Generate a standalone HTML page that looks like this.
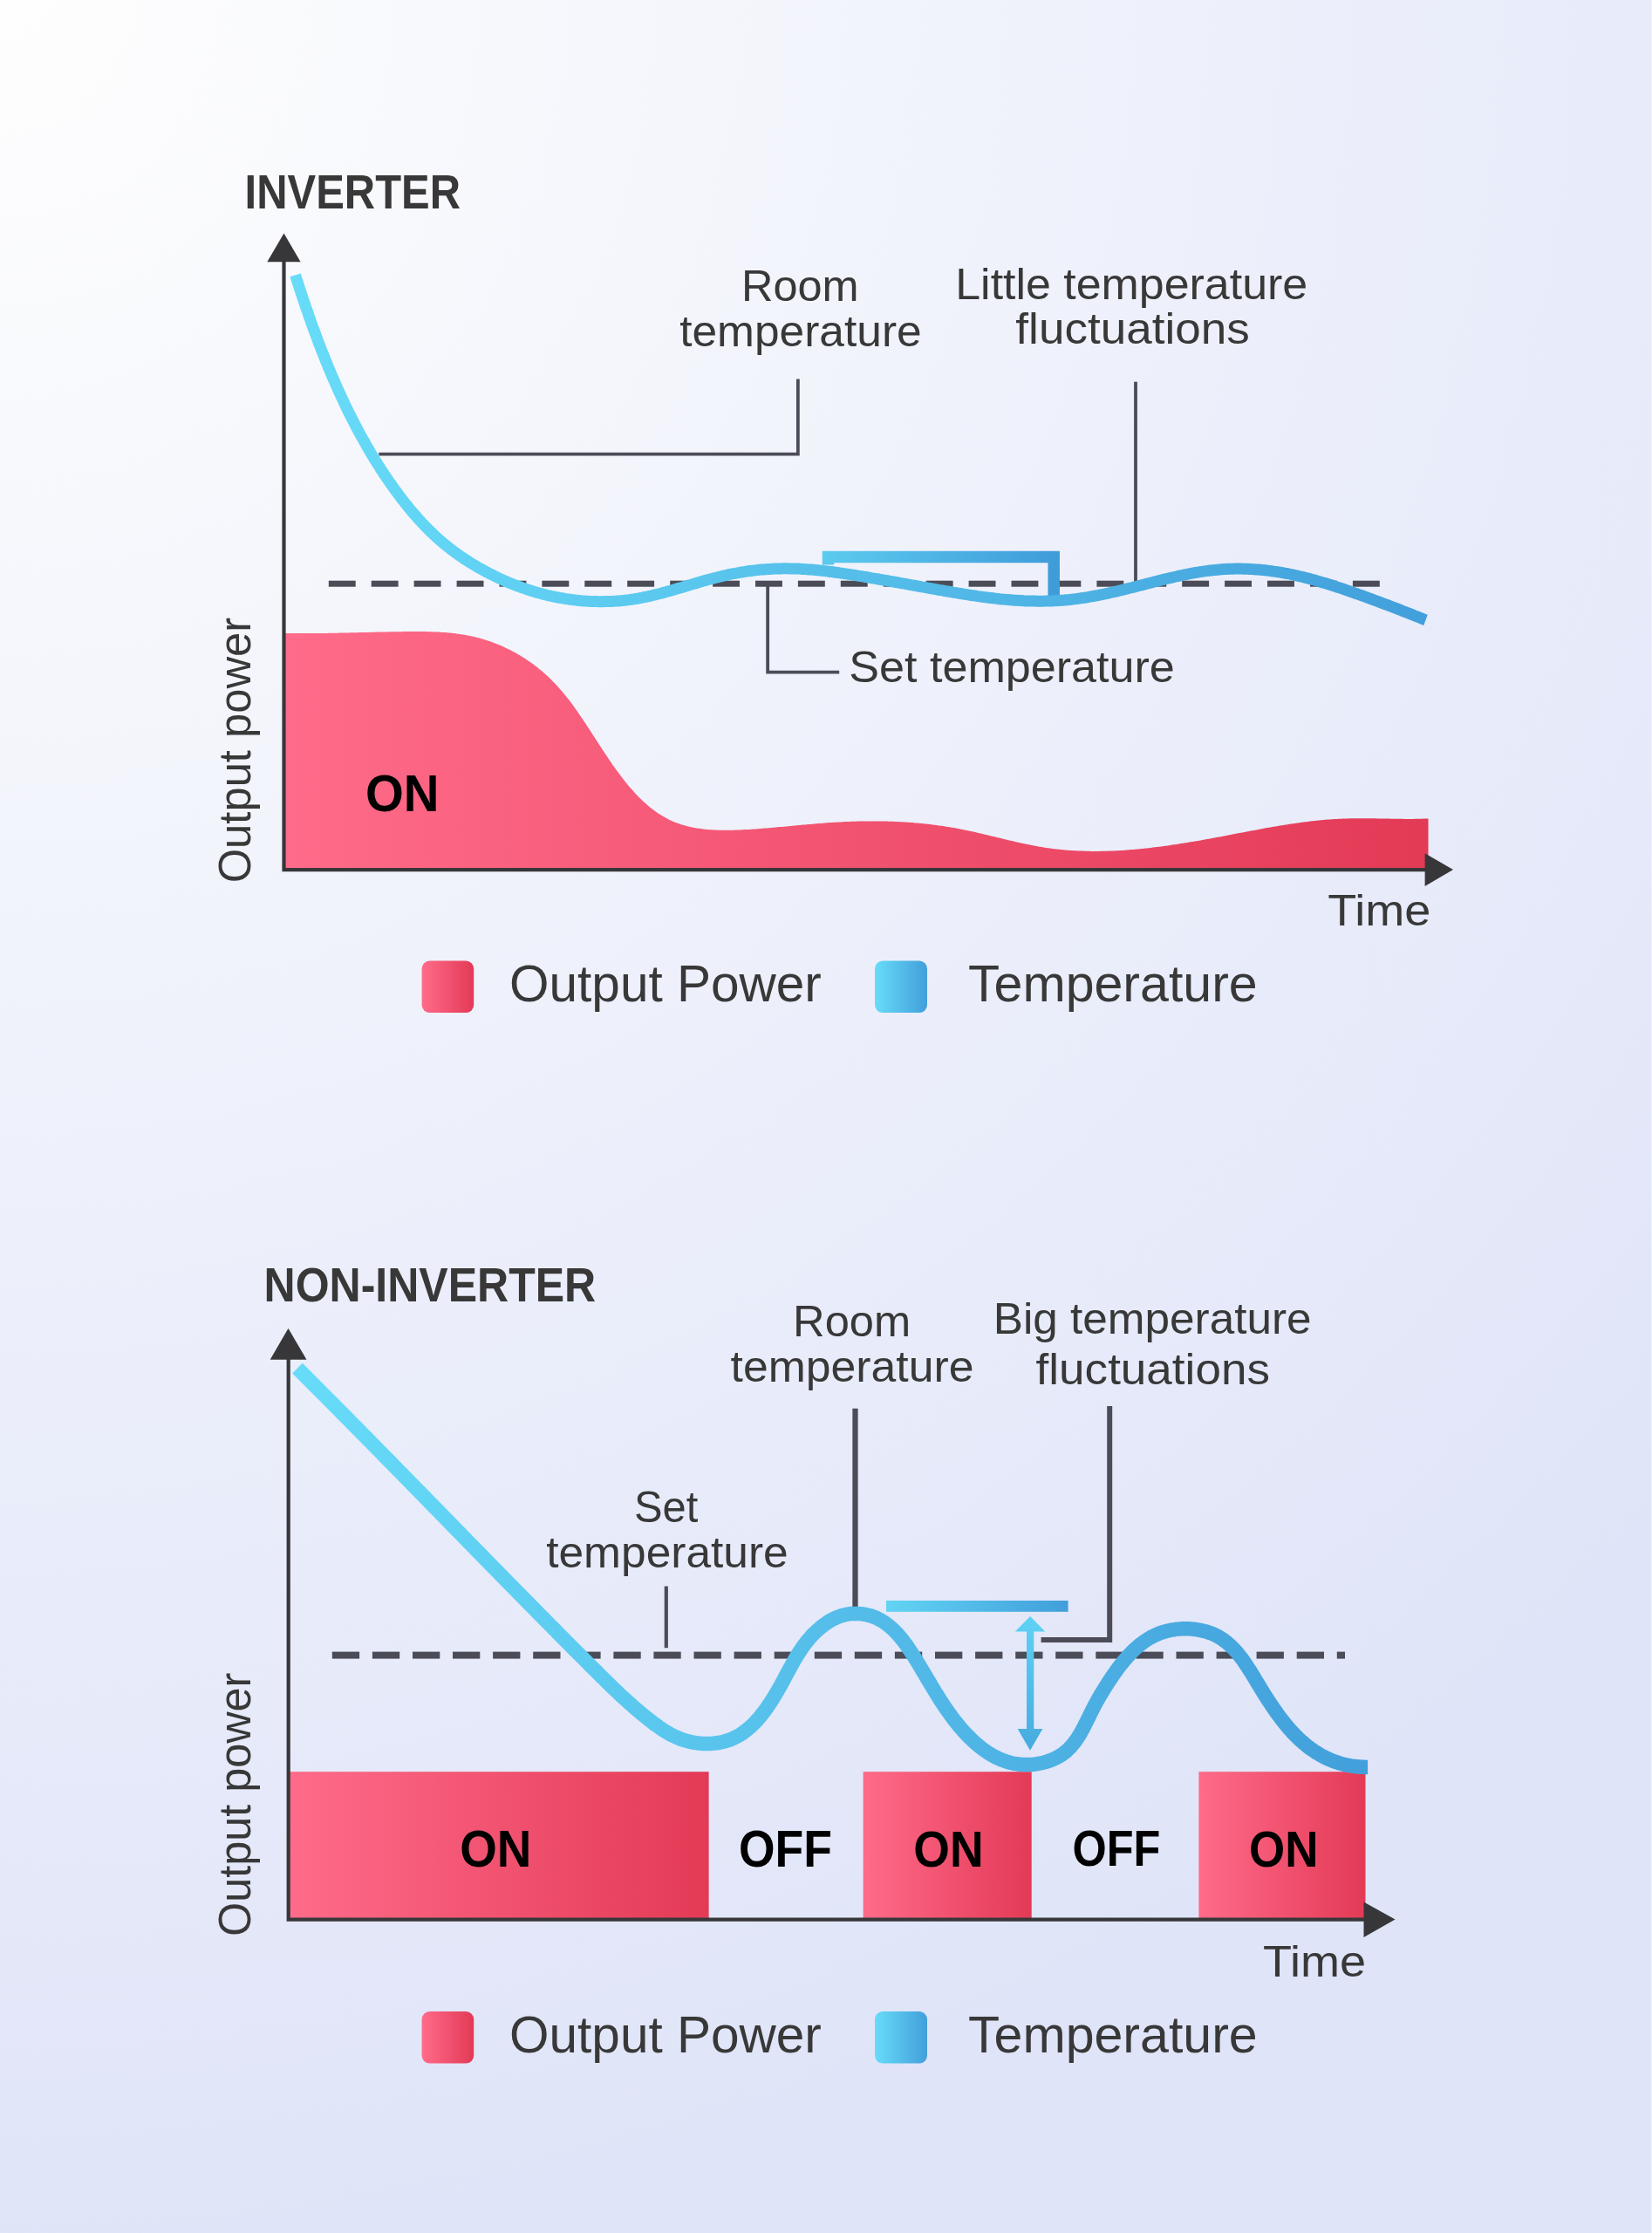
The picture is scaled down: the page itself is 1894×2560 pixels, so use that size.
<!DOCTYPE html>
<html><head><meta charset="utf-8"><title>Inverter vs Non-Inverter</title>
<style>
html,body{margin:0;padding:0;}
body{width:1894px;height:2560px;overflow:hidden;background:radial-gradient(circle 2600px at 0 0,#fefefe 0%,#dfe4f8 100%);}
svg{position:absolute;left:0;top:0;display:block;}
text{font-family:"Liberation Sans",sans-serif;}
</style></head><body>
<svg width="1894" height="2560" viewBox="0 0 1894 2560" xmlns="http://www.w3.org/2000/svg">
<rect x="1893" y="0" width="1" height="2560" fill="#f1f3fd"/>
<defs>
<linearGradient id="pinkT" gradientUnits="userSpaceOnUse" x1="327" y1="0" x2="1638" y2="0"><stop offset="0" stop-color="#ff6b8a"/><stop offset="1" stop-color="#e33a56"/></linearGradient>
<linearGradient id="blueT" gradientUnits="userSpaceOnUse" x1="332" y1="0" x2="1640" y2="0"><stop offset="0" stop-color="#67dcf8"/><stop offset="1" stop-color="#429fdb"/></linearGradient>
<linearGradient id="brkT" gradientUnits="userSpaceOnUse" x1="943" y1="0" x2="1215" y2="0"><stop offset="0" stop-color="#5ccbef"/><stop offset="1" stop-color="#3f9bd9"/></linearGradient>
<linearGradient id="pinkB1" gradientUnits="userSpaceOnUse" x1="333" y1="0" x2="812.6" y2="0"><stop offset="0" stop-color="#ff6b8a"/><stop offset="1" stop-color="#e33a56"/></linearGradient>
<linearGradient id="pinkB2" gradientUnits="userSpaceOnUse" x1="989.6" y1="0" x2="1182.7" y2="0"><stop offset="0" stop-color="#ff6b8a"/><stop offset="1" stop-color="#e33a56"/></linearGradient>
<linearGradient id="pinkB3" gradientUnits="userSpaceOnUse" x1="1374.4" y1="0" x2="1565.5" y2="0"><stop offset="0" stop-color="#ff6b8a"/><stop offset="1" stop-color="#e33a56"/></linearGradient>
<linearGradient id="blueB" gradientUnits="userSpaceOnUse" x1="335" y1="0" x2="1568" y2="0"><stop offset="0" stop-color="#67dcf8"/><stop offset="1" stop-color="#429fdb"/></linearGradient>
<linearGradient id="barB" gradientUnits="userSpaceOnUse" x1="1016" y1="0" x2="1224.6" y2="0"><stop offset="0" stop-color="#62d4f4"/><stop offset="1" stop-color="#419fdb"/></linearGradient>
<linearGradient id="arrB" gradientUnits="userSpaceOnUse" x1="0" y1="1853" x2="0" y2="2007"><stop offset="0" stop-color="#5fd3f4"/><stop offset="1" stop-color="#46aade"/></linearGradient>
<linearGradient id="swP" x1="0" y1="0" x2="1" y2="0"><stop offset="0" stop-color="#ff6b8a"/><stop offset="1" stop-color="#e33a56"/></linearGradient>
<linearGradient id="swB" x1="0" y1="0" x2="1" y2="0"><stop offset="0" stop-color="#67dcf8"/><stop offset="1" stop-color="#429fdb"/></linearGradient>
</defs>
<path d="M327.0,725.9 L329.5,725.9 L332.0,725.9 L334.5,726.0 L337.0,726.0 L339.5,726.0 L342.1,726.1 L344.6,726.1 L347.1,726.1 L349.6,726.1 L352.1,726.1 L354.6,726.1 L357.1,726.1 L359.6,726.0 L362.1,726.0 L364.6,726.0 L367.1,726.0 L369.6,725.9 L372.1,725.9 L374.7,725.9 L377.2,725.8 L379.7,725.8 L382.2,725.7 L384.7,725.7 L387.2,725.7 L389.7,725.6 L392.2,725.5 L394.7,725.5 L397.2,725.4 L399.7,725.4 L402.2,725.3 L404.7,725.3 L407.3,725.2 L409.8,725.2 L412.3,725.1 L414.8,725.0 L417.3,725.0 L419.8,724.9 L422.3,724.9 L424.8,724.8 L427.3,724.7 L429.8,724.7 L432.3,724.6 L434.8,724.6 L437.3,724.5 L439.9,724.5 L442.4,724.4 L444.9,724.4 L447.4,724.3 L449.9,724.3 L452.4,724.3 L454.9,724.2 L457.4,724.2 L459.9,724.2 L462.4,724.1 L464.9,724.1 L467.4,724.1 L470.0,724.1 L472.5,724.1 L475.0,724.0 L477.5,724.0 L480.0,724.1 L482.5,724.1 L485.0,724.1 L487.5,724.1 L490.0,724.2 L492.5,724.2 L495.0,724.3 L497.5,724.4 L500.0,724.5 L502.5,724.6 L505.1,724.8 L507.6,724.9 L510.1,725.1 L512.6,725.3 L515.1,725.5 L517.6,725.8 L520.0,726.0 L522.5,726.3 L525.0,726.7 L527.5,727.0 L530.0,727.4 L532.5,727.8 L534.9,728.2 L537.4,728.7 L539.9,729.2 L542.3,729.7 L544.7,730.3 L547.2,730.9 L549.6,731.5 L552.0,732.2 L554.4,732.9 L556.8,733.7 L559.2,734.4 L561.6,735.3 L563.9,736.1 L566.3,737.0 L568.6,737.9 L571.0,738.8 L573.3,739.8 L575.6,740.8 L577.9,741.8 L580.1,742.9 L582.4,744.0 L584.6,745.1 L586.9,746.2 L589.1,747.4 L591.3,748.6 L593.5,749.9 L595.6,751.1 L597.8,752.4 L599.9,753.8 L602.0,755.1 L604.1,756.5 L606.2,757.9 L608.2,759.3 L610.3,760.8 L612.3,762.3 L614.3,763.8 L616.3,765.3 L618.2,766.9 L620.2,768.5 L622.1,770.1 L624.0,771.7 L625.9,773.4 L627.7,775.1 L629.5,776.8 L631.3,778.6 L633.1,780.4 L634.9,782.2 L636.6,784.0 L638.3,785.8 L640.0,787.7 L641.6,789.5 L643.3,791.4 L644.9,793.3 L646.5,795.3 L648.1,797.2 L649.7,799.2 L651.2,801.1 L652.8,803.1 L654.3,805.1 L655.8,807.1 L657.3,809.1 L658.8,811.2 L660.2,813.2 L661.7,815.3 L663.1,817.3 L664.5,819.4 L665.9,821.4 L667.3,823.5 L668.7,825.6 L670.1,827.7 L671.5,829.8 L672.9,831.9 L674.3,834.0 L675.6,836.1 L677.0,838.2 L678.4,840.3 L679.7,842.4 L681.1,844.5 L682.4,846.6 L683.8,848.7 L685.2,850.8 L686.5,852.9 L687.9,855.0 L689.2,857.1 L690.6,859.2 L692.0,861.3 L693.4,863.4 L694.8,865.5 L696.2,867.6 L697.6,869.7 L699.0,871.8 L700.4,873.8 L701.8,875.9 L703.2,878.0 L704.7,880.0 L706.1,882.1 L707.6,884.1 L709.1,886.1 L710.6,888.1 L712.1,890.1 L713.6,892.1 L715.2,894.1 L716.7,896.0 L718.3,898.0 L719.9,899.9 L721.5,901.9 L723.2,903.8 L724.8,905.6 L726.5,907.5 L728.2,909.4 L729.9,911.2 L731.6,913.0 L733.4,914.8 L735.2,916.5 L737.0,918.3 L738.9,920.0 L740.7,921.6 L742.6,923.3 L744.6,924.9 L746.5,926.4 L748.5,928.0 L750.5,929.5 L752.5,930.9 L754.6,932.4 L756.7,933.7 L758.8,935.1 L761.0,936.3 L763.2,937.6 L765.4,938.8 L767.6,939.9 L769.9,940.9 L772.2,942.0 L774.5,942.9 L776.9,943.8 L779.2,944.6 L781.6,945.4 L784.0,946.1 L786.4,946.8 L788.9,947.4 L791.3,948.0 L793.8,948.5 L796.2,949.0 L798.7,949.4 L801.2,949.8 L803.7,950.1 L806.2,950.4 L808.6,950.7 L811.1,950.9 L813.6,951.2 L816.1,951.3 L818.6,951.5 L821.2,951.6 L823.7,951.7 L826.2,951.7 L828.7,951.8 L831.2,951.8 L833.7,951.8 L836.2,951.8 L838.7,951.7 L841.2,951.7 L843.7,951.6 L846.2,951.5 L848.7,951.4 L851.2,951.3 L853.7,951.1 L856.2,951.0 L858.8,950.9 L861.3,950.7 L863.8,950.5 L866.3,950.4 L868.8,950.2 L871.3,950.0 L873.8,949.8 L876.3,949.6 L878.8,949.4 L881.3,949.2 L883.8,949.0 L886.3,948.8 L888.8,948.6 L891.3,948.3 L893.8,948.1 L896.3,947.9 L898.8,947.7 L901.3,947.4 L903.7,947.2 L906.2,947.0 L908.7,946.7 L911.2,946.5 L913.7,946.3 L916.2,946.0 L918.7,945.8 L921.2,945.6 L923.7,945.4 L926.2,945.1 L928.7,944.9 L931.2,944.7 L933.7,944.5 L936.2,944.3 L938.7,944.1 L941.2,943.9 L943.7,943.7 L946.2,943.5 L948.7,943.3 L951.2,943.1 L953.7,943.0 L956.2,942.8 L958.7,942.7 L961.2,942.5 L963.7,942.4 L966.3,942.2 L968.8,942.1 L971.3,942.0 L973.8,941.9 L976.3,941.8 L978.8,941.7 L981.3,941.7 L983.8,941.6 L986.3,941.5 L988.8,941.5 L991.3,941.4 L993.8,941.4 L996.3,941.4 L998.8,941.4 L1001.4,941.4 L1003.9,941.4 L1006.4,941.4 L1008.9,941.4 L1011.4,941.5 L1013.9,941.5 L1016.4,941.6 L1018.9,941.7 L1021.4,941.7 L1023.9,941.8 L1026.4,941.9 L1028.9,942.0 L1031.4,942.2 L1033.9,942.3 L1036.4,942.5 L1038.9,942.6 L1041.5,942.8 L1044.0,943.0 L1046.5,943.1 L1049.0,943.4 L1051.5,943.6 L1053.9,943.8 L1056.4,944.0 L1058.9,944.3 L1061.4,944.5 L1063.9,944.8 L1066.4,945.1 L1068.9,945.4 L1071.4,945.7 L1073.9,946.1 L1076.4,946.4 L1078.9,946.7 L1081.3,947.1 L1083.8,947.5 L1086.3,947.9 L1088.8,948.3 L1091.2,948.7 L1093.7,949.1 L1096.2,949.6 L1098.6,950.0 L1101.1,950.5 L1103.6,951.0 L1106.0,951.5 L1108.5,952.0 L1110.9,952.5 L1113.4,953.1 L1115.8,953.6 L1118.3,954.1 L1120.7,954.7 L1123.2,955.3 L1125.6,955.8 L1128.1,956.4 L1130.5,957.0 L1132.9,957.6 L1135.4,958.2 L1137.8,958.8 L1140.3,959.3 L1142.7,959.9 L1145.1,960.5 L1147.6,961.1 L1150.0,961.7 L1152.4,962.3 L1154.9,962.9 L1157.3,963.5 L1159.8,964.0 L1162.2,964.6 L1164.7,965.2 L1167.1,965.7 L1169.5,966.3 L1172.0,966.8 L1174.4,967.3 L1176.9,967.8 L1179.4,968.3 L1181.8,968.8 L1184.3,969.3 L1186.7,969.8 L1189.2,970.2 L1191.7,970.7 L1194.2,971.1 L1196.6,971.5 L1199.1,971.9 L1201.6,972.2 L1204.1,972.6 L1206.6,972.9 L1209.1,973.2 L1211.5,973.5 L1214.0,973.8 L1216.5,974.0 L1219.0,974.3 L1221.5,974.5 L1224.0,974.7 L1226.5,974.9 L1229.0,975.0 L1231.5,975.2 L1234.0,975.3 L1236.5,975.4 L1239.1,975.6 L1241.6,975.6 L1244.1,975.7 L1246.6,975.8 L1249.1,975.8 L1251.6,975.9 L1254.1,975.9 L1256.6,975.9 L1259.1,975.9 L1261.6,975.8 L1264.1,975.8 L1266.6,975.7 L1269.1,975.7 L1271.6,975.6 L1274.2,975.5 L1276.7,975.4 L1279.2,975.3 L1281.7,975.2 L1284.2,975.0 L1286.7,974.9 L1289.2,974.7 L1291.7,974.5 L1294.2,974.3 L1296.7,974.1 L1299.2,973.9 L1301.7,973.7 L1304.2,973.5 L1306.7,973.2 L1309.2,973.0 L1311.7,972.7 L1314.2,972.5 L1316.7,972.2 L1319.2,971.9 L1321.6,971.6 L1324.1,971.3 L1326.6,971.0 L1329.1,970.7 L1331.6,970.4 L1334.1,970.0 L1336.6,969.7 L1339.1,969.4 L1341.5,969.0 L1344.0,968.6 L1346.5,968.3 L1349.0,967.9 L1351.5,967.5 L1353.9,967.1 L1356.4,966.7 L1358.9,966.3 L1361.4,965.9 L1363.8,965.5 L1366.3,965.1 L1368.8,964.7 L1371.3,964.3 L1373.7,963.9 L1376.2,963.4 L1378.7,963.0 L1381.1,962.5 L1383.6,962.1 L1386.1,961.7 L1388.5,961.2 L1391.0,960.8 L1393.5,960.3 L1395.9,959.8 L1398.4,959.4 L1400.9,958.9 L1403.3,958.4 L1405.8,958.0 L1408.3,957.5 L1410.7,957.0 L1413.2,956.6 L1415.7,956.1 L1418.1,955.6 L1420.6,955.1 L1423.0,954.7 L1425.5,954.2 L1428.0,953.7 L1430.4,953.3 L1432.9,952.8 L1435.4,952.3 L1437.8,951.9 L1440.3,951.4 L1442.8,950.9 L1445.2,950.5 L1447.7,950.0 L1450.2,949.6 L1452.6,949.1 L1455.1,948.7 L1457.6,948.3 L1460.0,947.8 L1462.5,947.4 L1465.0,947.0 L1467.5,946.6 L1469.9,946.2 L1472.4,945.8 L1474.9,945.4 L1477.4,945.0 L1479.8,944.6 L1482.3,944.2 L1484.8,943.9 L1487.3,943.5 L1489.8,943.2 L1492.3,942.8 L1494.7,942.5 L1497.2,942.2 L1499.7,941.9 L1502.2,941.6 L1504.7,941.3 L1507.2,941.0 L1509.7,940.8 L1512.2,940.5 L1514.7,940.3 L1517.2,940.0 L1519.7,939.8 L1522.2,939.6 L1524.7,939.4 L1527.2,939.3 L1529.7,939.1 L1532.2,938.9 L1534.7,938.8 L1537.2,938.7 L1539.7,938.6 L1542.2,938.5 L1544.7,938.4 L1547.2,938.3 L1549.7,938.3 L1552.2,938.2 L1554.8,938.2 L1557.3,938.2 L1559.8,938.2 L1562.3,938.2 L1564.8,938.2 L1567.3,938.2 L1569.8,938.2 L1572.3,938.3 L1574.8,938.3 L1577.3,938.3 L1579.8,938.4 L1582.3,938.4 L1584.8,938.5 L1587.4,938.5 L1589.9,938.6 L1592.4,938.6 L1594.9,938.7 L1597.4,938.7 L1599.9,938.7 L1602.4,938.8 L1604.9,938.8 L1607.4,938.8 L1609.9,938.9 L1612.4,938.9 L1614.9,938.9 L1617.5,938.9 L1620.0,938.9 L1622.5,938.8 L1625.0,938.8 L1627.5,938.8 L1630.0,938.7 L1632.5,938.6 L1635.0,938.6 L1637.5,938.5 L1637.5,998 L327,998 Z" fill="url(#pinkT)"/>
<g fill="#4b4c58"><rect x="376.8" y="665.7" width="30.9" height="7.0"/><rect x="425.7" y="665.7" width="30.9" height="7.0"/><rect x="474.6" y="665.7" width="30.9" height="7.0"/><rect x="523.6" y="665.7" width="30.9" height="7.0"/><rect x="572.5" y="665.7" width="30.9" height="7.0"/><rect x="621.4" y="665.7" width="30.9" height="7.0"/><rect x="670.3" y="665.7" width="30.9" height="7.0"/><rect x="719.2" y="665.7" width="30.9" height="7.0"/><rect x="768.2" y="665.7" width="30.9" height="7.0"/><rect x="817.1" y="665.7" width="30.9" height="7.0"/><rect x="866.0" y="665.7" width="30.9" height="7.0"/><rect x="914.9" y="665.7" width="30.9" height="7.0"/><rect x="963.8" y="665.7" width="30.9" height="7.0"/><rect x="1012.8" y="665.7" width="30.9" height="7.0"/><rect x="1061.7" y="665.7" width="30.9" height="7.0"/><rect x="1110.6" y="665.7" width="30.9" height="7.0"/><rect x="1159.5" y="665.7" width="30.9" height="7.0"/><rect x="1208.4" y="665.7" width="30.9" height="7.0"/><rect x="1257.4" y="665.7" width="30.9" height="7.0"/><rect x="1306.3" y="665.7" width="30.9" height="7.0"/><rect x="1355.2" y="665.7" width="30.9" height="7.0"/><rect x="1404.1" y="665.7" width="30.9" height="7.0"/><rect x="1453.0" y="665.7" width="30.9" height="7.0"/><rect x="1502.0" y="665.7" width="30.9" height="7.0"/><rect x="1550.9" y="665.7" width="30.9" height="7.0"/></g>
<path d="M434.4,520.7 H914.85 V434.6" fill="none" stroke="#4b4c58" stroke-width="3.8"/>
<path d="M1302,667 V437.7" fill="none" stroke="#4b4c58" stroke-width="3.8"/>
<path d="M880.15,672 V770.7 H962.2" fill="none" stroke="#4b4c58" stroke-width="3.8"/>
<path d="M949.5,647.5 V638.4 H1208.2 V684.5" fill="none" stroke="url(#brkT)" stroke-width="13.5"/>
<path d="M338.6,315.4 L339.3,317.8 L340.1,320.2 L340.9,322.5 L341.6,324.9 L342.4,327.3 L343.2,329.7 L344.0,332.1 L344.8,334.5 L345.5,336.8 L346.3,339.2 L347.1,341.6 L347.9,344.0 L348.7,346.4 L349.5,348.7 L350.3,351.1 L351.1,353.5 L352.0,355.9 L352.8,358.2 L353.6,360.6 L354.4,363.0 L355.3,365.3 L356.1,367.7 L356.9,370.1 L357.8,372.4 L358.6,374.8 L359.5,377.1 L360.4,379.5 L361.2,381.8 L362.1,384.2 L363.0,386.5 L363.9,388.9 L364.7,391.2 L365.6,393.6 L366.5,395.9 L367.4,398.3 L368.3,400.6 L369.2,402.9 L370.2,405.3 L371.1,407.6 L372.0,409.9 L372.9,412.3 L373.9,414.6 L374.8,416.9 L375.8,419.2 L376.7,421.6 L377.7,423.9 L378.7,426.2 L379.6,428.5 L380.6,430.8 L381.6,433.1 L382.6,435.4 L383.6,437.7 L384.6,440.0 L385.6,442.3 L386.6,444.6 L387.7,446.9 L388.7,449.2 L389.7,451.4 L390.8,453.7 L391.8,456.0 L392.9,458.3 L394.0,460.5 L395.1,462.8 L396.1,465.1 L397.2,467.3 L398.3,469.6 L399.4,471.8 L400.5,474.1 L401.7,476.3 L402.8,478.6 L403.9,480.8 L405.1,483.0 L406.2,485.3 L407.4,487.5 L408.5,489.7 L409.7,491.9 L410.9,494.1 L412.1,496.4 L413.3,498.6 L414.5,500.8 L415.7,502.9 L416.9,505.1 L418.2,507.3 L419.4,509.5 L420.6,511.7 L421.9,513.8 L423.2,516.0 L424.4,518.2 L425.7,520.3 L427.0,522.5 L428.3,524.6 L429.6,526.8 L431.0,528.9 L432.3,531.0 L433.6,533.1 L435.0,535.3 L436.3,537.4 L437.7,539.5 L439.1,541.6 L440.4,543.7 L441.8,545.7 L443.2,547.8 L444.7,549.9 L446.1,552.0 L447.5,554.0 L449.0,556.1 L450.4,558.1 L451.9,560.2 L453.3,562.2 L454.8,564.2 L456.3,566.2 L457.8,568.2 L459.3,570.2 L460.8,572.2 L462.4,574.2 L463.9,576.2 L465.5,578.1 L467.1,580.1 L468.6,582.0 L470.2,584.0 L471.8,585.9 L473.5,587.8 L475.1,589.7 L476.8,591.6 L478.4,593.5 L480.1,595.4 L481.8,597.2 L483.5,599.1 L485.2,600.9 L486.9,602.7 L488.7,604.5 L490.4,606.3 L492.2,608.1 L494.0,609.8 L495.8,611.5 L497.6,613.3 L499.5,615.0 L501.3,616.7 L503.2,618.3 L505.1,620.0 L507.0,621.6 L508.9,623.2 L510.8,624.8 L512.8,626.4 L514.8,628.0 L516.7,629.5 L518.7,631.0 L520.7,632.5 L522.8,634.0 L524.8,635.5 L526.8,636.9 L528.9,638.3 L531.0,639.8 L533.1,641.1 L535.2,642.5 L537.3,643.9 L539.4,645.2 L541.6,646.5 L543.7,647.8 L545.9,649.1 L548.0,650.4 L550.2,651.6 L552.4,652.8 L554.6,654.0 L556.8,655.2 L559.0,656.4 L561.2,657.6 L563.5,658.7 L565.7,659.8 L568.0,660.9 L570.2,662.0 L572.5,663.1 L574.8,664.1 L577.0,665.2 L579.3,666.2 L581.6,667.2 L584.0,668.2 L586.3,669.1 L588.6,670.0 L590.9,671.0 L593.3,671.9 L595.6,672.7 L598.0,673.6 L600.4,674.4 L602.7,675.2 L605.1,676.0 L607.5,676.8 L609.9,677.5 L612.3,678.3 L614.7,679.0 L617.1,679.7 L619.5,680.3 L622.0,681.0 L624.4,681.6 L626.8,682.2 L629.3,682.8 L631.7,683.3 L634.2,683.8 L636.6,684.3 L639.1,684.8 L641.5,685.3 L644.0,685.7 L646.5,686.2 L649.0,686.6 L651.4,686.9 L653.9,687.3 L656.4,687.6 L658.9,687.9 L661.4,688.2 L663.9,688.4 L666.4,688.7 L668.9,688.9 L671.4,689.1 L673.9,689.2 L676.4,689.4 L678.9,689.5 L681.4,689.6 L683.9,689.6 L686.4,689.7 L688.9,689.7 L691.4,689.7 L693.9,689.6 L696.4,689.6 L699.0,689.5 L701.5,689.4 L704.0,689.2 L706.5,689.1 L709.0,688.9 L711.5,688.7 L714.0,688.4 L716.5,688.2 L718.9,687.9 L721.4,687.6 L723.9,687.2 L726.4,686.9 L728.9,686.5 L731.4,686.1 L733.8,685.6 L736.3,685.2 L738.7,684.7 L741.2,684.2 L743.7,683.6 L746.1,683.1 L748.5,682.5 L751.0,681.9 L753.4,681.3 L755.8,680.7 L758.3,680.1 L760.7,679.4 L763.1,678.8 L765.5,678.1 L768.0,677.4 L770.4,676.7 L772.8,676.0 L775.2,675.3 L777.6,674.6 L780.0,673.9 L782.4,673.2 L784.8,672.5 L787.2,671.8 L789.6,671.1 L792.0,670.4 L794.4,669.6 L796.8,668.9 L799.2,668.2 L801.6,667.5 L804.0,666.8 L806.5,666.1 L808.9,665.4 L811.3,664.8 L813.7,664.1 L816.1,663.5 L818.6,662.8 L821.0,662.2 L823.4,661.6 L825.8,661.0 L828.3,660.4 L830.7,659.8 L833.2,659.3 L835.6,658.7 L838.1,658.2 L840.5,657.7 L843.0,657.3 L845.5,656.8 L847.9,656.4 L850.4,656.0 L852.9,655.6 L855.4,655.2 L857.9,654.8 L860.3,654.5 L862.8,654.2 L865.3,653.9 L867.8,653.6 L870.3,653.3 L872.8,653.1 L875.3,652.9 L877.8,652.7 L880.3,652.5 L882.8,652.4 L885.3,652.2 L887.8,652.1 L890.3,652.0 L892.8,651.9 L895.3,651.9 L897.8,651.8 L900.3,651.8 L902.9,651.8 L905.4,651.9 L907.9,651.9 L910.4,652.0 L912.9,652.0 L915.4,652.1 L917.9,652.3 L920.4,652.4 L922.9,652.6 L925.4,652.7 L927.9,652.9 L930.4,653.1 L932.9,653.3 L935.4,653.6 L937.9,653.8 L940.4,654.1 L942.9,654.3 L945.4,654.6 L947.9,654.9 L950.4,655.2 L952.9,655.5 L955.3,655.8 L957.8,656.2 L960.3,656.5 L962.8,656.9 L965.3,657.2 L967.8,657.6 L970.2,657.9 L972.7,658.3 L975.2,658.7 L977.7,659.1 L980.2,659.5 L982.6,659.9 L985.1,660.3 L987.6,660.7 L990.1,661.1 L992.5,661.5 L995.0,661.9 L997.5,662.3 L999.9,662.8 L1002.4,663.2 L1004.9,663.6 L1007.4,664.0 L1009.8,664.5 L1012.3,664.9 L1014.8,665.3 L1017.2,665.7 L1019.7,666.2 L1022.2,666.6 L1024.7,667.0 L1027.1,667.5 L1029.6,667.9 L1032.1,668.4 L1034.5,668.8 L1037.0,669.2 L1039.5,669.7 L1041.9,670.1 L1044.4,670.6 L1046.9,671.0 L1049.4,671.4 L1051.8,671.9 L1054.3,672.3 L1056.8,672.8 L1059.2,673.2 L1061.7,673.6 L1064.2,674.1 L1066.6,674.5 L1069.1,675.0 L1071.6,675.4 L1074.0,675.8 L1076.5,676.3 L1079.0,676.7 L1081.5,677.1 L1083.9,677.6 L1086.4,678.0 L1088.9,678.4 L1091.3,678.9 L1093.8,679.3 L1096.3,679.7 L1098.8,680.1 L1101.2,680.5 L1103.7,680.9 L1106.2,681.3 L1108.7,681.7 L1111.1,682.1 L1113.6,682.5 L1116.1,682.8 L1118.6,683.2 L1121.1,683.6 L1123.5,683.9 L1126.0,684.3 L1128.5,684.6 L1131.0,684.9 L1133.5,685.2 L1136.0,685.5 L1138.5,685.8 L1141.0,686.1 L1143.5,686.4 L1145.9,686.7 L1148.4,686.9 L1150.9,687.1 L1153.4,687.4 L1155.9,687.6 L1158.4,687.8 L1160.9,688.0 L1163.4,688.2 L1165.9,688.3 L1168.4,688.5 L1170.9,688.6 L1173.5,688.8 L1176.0,688.9 L1178.5,689.0 L1181.0,689.0 L1183.5,689.1 L1186.0,689.1 L1188.5,689.2 L1191.0,689.2 L1193.5,689.2 L1196.0,689.2 L1198.5,689.1 L1201.0,689.1 L1203.5,689.0 L1206.0,688.9 L1208.6,688.8 L1211.1,688.7 L1213.6,688.5 L1216.1,688.3 L1218.6,688.2 L1221.1,687.9 L1223.6,687.7 L1226.1,687.5 L1228.5,687.2 L1231.0,686.9 L1233.5,686.6 L1236.0,686.3 L1238.5,685.9 L1241.0,685.5 L1243.5,685.2 L1245.9,684.8 L1248.4,684.4 L1250.9,683.9 L1253.4,683.5 L1255.8,683.0 L1258.3,682.6 L1260.7,682.1 L1263.2,681.6 L1265.7,681.1 L1268.1,680.6 L1270.6,680.1 L1273.0,679.5 L1275.5,679.0 L1277.9,678.4 L1280.4,677.9 L1282.8,677.3 L1285.2,676.7 L1287.7,676.1 L1290.1,675.5 L1292.5,674.9 L1295.0,674.3 L1297.4,673.7 L1299.8,673.1 L1302.3,672.5 L1304.7,671.8 L1307.1,671.2 L1309.6,670.6 L1312.0,670.0 L1314.4,669.3 L1316.8,668.7 L1319.3,668.1 L1321.7,667.5 L1324.1,666.8 L1326.6,666.2 L1329.0,665.6 L1331.4,665.0 L1333.9,664.4 L1336.3,663.8 L1338.7,663.2 L1341.2,662.6 L1343.6,662.1 L1346.1,661.5 L1348.5,661.0 L1351.0,660.4 L1353.4,659.9 L1355.9,659.4 L1358.3,658.8 L1360.8,658.3 L1363.2,657.9 L1365.7,657.4 L1368.2,656.9 L1370.6,656.5 L1373.1,656.1 L1375.6,655.7 L1378.1,655.3 L1380.5,654.9 L1383.0,654.6 L1385.5,654.3 L1388.0,654.0 L1390.5,653.7 L1393.0,653.4 L1395.5,653.2 L1398.0,653.0 L1400.5,652.8 L1403.0,652.6 L1405.5,652.5 L1408.0,652.3 L1410.5,652.3 L1413.0,652.2 L1415.5,652.1 L1418.0,652.1 L1420.5,652.1 L1423.0,652.1 L1425.6,652.2 L1428.1,652.2 L1430.6,652.3 L1433.1,652.4 L1435.6,652.6 L1438.1,652.7 L1440.6,652.9 L1443.1,653.1 L1445.6,653.3 L1448.1,653.6 L1450.6,653.8 L1453.1,654.1 L1455.6,654.4 L1458.0,654.7 L1460.5,655.1 L1463.0,655.4 L1465.5,655.8 L1468.0,656.2 L1470.4,656.6 L1472.9,657.1 L1475.4,657.5 L1477.8,658.0 L1480.3,658.5 L1482.7,659.0 L1485.2,659.6 L1487.6,660.1 L1490.1,660.7 L1492.5,661.3 L1495.0,661.9 L1497.4,662.5 L1499.8,663.1 L1502.2,663.7 L1504.7,664.4 L1507.1,665.1 L1509.5,665.8 L1511.9,666.4 L1514.3,667.2 L1516.7,667.9 L1519.1,668.6 L1521.5,669.3 L1523.9,670.1 L1526.3,670.8 L1528.7,671.6 L1531.1,672.4 L1533.5,673.2 L1535.8,673.9 L1538.2,674.7 L1540.6,675.5 L1543.0,676.4 L1545.3,677.2 L1547.7,678.0 L1550.1,678.8 L1552.4,679.6 L1554.8,680.5 L1557.2,681.3 L1559.5,682.2 L1561.9,683.0 L1564.3,683.9 L1566.6,684.7 L1569.0,685.6 L1571.3,686.4 L1573.7,687.3 L1576.0,688.2 L1578.4,689.0 L1580.7,689.9 L1583.1,690.8 L1585.4,691.7 L1587.8,692.6 L1590.1,693.4 L1592.5,694.3 L1594.8,695.2 L1597.2,696.1 L1599.5,697.0 L1601.8,697.9 L1604.2,698.8 L1606.5,699.8 L1608.8,700.7 L1611.2,701.6 L1613.5,702.5 L1615.8,703.4 L1618.2,704.3 L1620.5,705.3 L1622.8,706.2 L1625.2,707.1 L1627.5,708.1 L1629.8,709.0 L1632.1,710.0 L1634.5,710.9" fill="none" stroke="url(#blueT)" stroke-width="13"/>
<path d="M325.5,300 V997.2 H1634" fill="none" stroke="#373639" stroke-width="4.2"/>
<path d="M306.3,300.2 L325.5,267.5 L344.6,300.2 Z" fill="#373639"/>
<path d="M1633.6,978.2 L1666,997.1 L1633.6,1016 Z" fill="#373639"/>
<rect x="483.6" y="1101.5" width="59.6" height="59.6" rx="9" fill="url(#swP)"/>
<rect x="1003" y="1101.5" width="60" height="59.6" rx="9" fill="url(#swB)"/>
<rect x="331" y="2031.2" width="481.6" height="169" fill="url(#pinkB1)"/>
<rect x="989.6" y="2031.2" width="193.1" height="169" fill="url(#pinkB2)"/>
<rect x="1374.4" y="2031.2" width="191.1" height="169" fill="url(#pinkB3)"/>
<g fill="#4b4c58"><rect x="380.8" y="1893.6" width="31.3" height="8.0"/><rect x="426.9" y="1893.6" width="31.3" height="8.0"/><rect x="473.0" y="1893.6" width="31.3" height="8.0"/><rect x="519.0" y="1893.6" width="31.3" height="8.0"/><rect x="565.1" y="1893.6" width="31.3" height="8.0"/><rect x="611.2" y="1893.6" width="31.3" height="8.0"/><rect x="657.3" y="1893.6" width="31.3" height="8.0"/><rect x="703.4" y="1893.6" width="31.3" height="8.0"/><rect x="749.4" y="1893.6" width="31.3" height="8.0"/><rect x="795.5" y="1893.6" width="31.3" height="8.0"/><rect x="841.6" y="1893.6" width="31.3" height="8.0"/><rect x="887.7" y="1893.6" width="31.3" height="8.0"/><rect x="933.8" y="1893.6" width="31.3" height="8.0"/><rect x="979.8" y="1893.6" width="31.3" height="8.0"/><rect x="1025.9" y="1893.6" width="31.3" height="8.0"/><rect x="1072.0" y="1893.6" width="31.3" height="8.0"/><rect x="1118.1" y="1893.6" width="31.3" height="8.0"/><rect x="1164.2" y="1893.6" width="31.3" height="8.0"/><rect x="1210.2" y="1893.6" width="31.3" height="8.0"/><rect x="1256.3" y="1893.6" width="31.3" height="8.0"/><rect x="1302.4" y="1893.6" width="31.3" height="8.0"/><rect x="1348.5" y="1893.6" width="31.3" height="8.0"/><rect x="1394.6" y="1893.6" width="31.3" height="8.0"/><rect x="1440.6" y="1893.6" width="31.3" height="8.0"/><rect x="1486.7" y="1893.6" width="31.3" height="8.0"/><rect x="1532.8" y="1893.6" width="9.2" height="8.0"/></g>
<path d="M763.8,1818.5 V1889.2" fill="none" stroke="#4b4c58" stroke-width="4.2"/>
<path d="M980.5,1614.8 V1845" fill="none" stroke="#4b4c58" stroke-width="6.3"/>
<path d="M1272.2,1612 V1880 H1193.6" fill="none" stroke="#4b4c58" stroke-width="6"/>
<rect x="1016" y="1835" width="208.6" height="12.8" fill="url(#barB)"/>
<path d="M1181.1,1853.1 L1198.3,1870.5 L1185.3,1870.5 L1185.3,1982.1 L1195.4,1982.1 L1181,2006.8 L1166.7,1982.1 L1177,1982.1 L1177,1870.5 L1163.8,1870.5 Z" fill="url(#arrB)"/>
<path d="M340.9,1568.6 L342.7,1570.4 L344.4,1572.1 L346.2,1573.9 L348.0,1575.7 L349.8,1577.4 L351.5,1579.2 L353.3,1581.0 L355.1,1582.8 L356.9,1584.5 L358.6,1586.3 L360.4,1588.1 L362.2,1589.9 L363.9,1591.6 L365.7,1593.4 L367.5,1595.2 L369.2,1597.0 L371.0,1598.7 L372.8,1600.5 L374.6,1602.3 L376.3,1604.1 L378.1,1605.8 L379.9,1607.6 L381.6,1609.4 L383.4,1611.2 L385.1,1613.0 L386.9,1614.7 L388.7,1616.5 L390.4,1618.3 L392.2,1620.1 L394.0,1621.9 L395.7,1623.6 L397.5,1625.4 L399.3,1627.2 L401.0,1629.0 L402.8,1630.8 L404.5,1632.6 L406.3,1634.3 L408.1,1636.1 L409.8,1637.9 L411.6,1639.7 L413.4,1641.5 L415.1,1643.3 L416.9,1645.0 L418.6,1646.8 L420.4,1648.6 L422.1,1650.4 L423.9,1652.2 L425.7,1654.0 L427.4,1655.8 L429.2,1657.5 L430.9,1659.3 L432.7,1661.1 L434.5,1662.9 L436.2,1664.7 L438.0,1666.5 L439.7,1668.3 L441.5,1670.1 L443.2,1671.8 L445.0,1673.6 L446.7,1675.4 L448.5,1677.2 L450.3,1679.0 L452.0,1680.8 L453.8,1682.6 L455.5,1684.4 L457.3,1686.2 L459.0,1688.0 L460.8,1689.7 L462.5,1691.5 L464.3,1693.3 L466.0,1695.1 L467.8,1696.9 L469.6,1698.7 L471.3,1700.5 L473.1,1702.3 L474.8,1704.1 L476.6,1705.9 L478.3,1707.7 L480.1,1709.4 L481.8,1711.2 L483.6,1713.0 L485.3,1714.8 L487.1,1716.6 L488.8,1718.4 L490.6,1720.2 L492.3,1722.0 L494.1,1723.8 L495.9,1725.6 L497.6,1727.4 L499.4,1729.2 L501.1,1730.9 L502.9,1732.7 L504.6,1734.5 L506.4,1736.3 L508.1,1738.1 L509.9,1739.9 L511.6,1741.7 L513.4,1743.5 L515.1,1745.3 L516.9,1747.1 L518.6,1748.9 L520.4,1750.7 L522.1,1752.5 L523.9,1754.3 L525.6,1756.0 L527.4,1757.8 L529.1,1759.6 L530.9,1761.4 L532.6,1763.2 L534.4,1765.0 L536.1,1766.8 L537.9,1768.6 L539.7,1770.4 L541.4,1772.2 L543.2,1774.0 L544.9,1775.8 L546.7,1777.6 L548.4,1779.3 L550.2,1781.1 L551.9,1782.9 L553.7,1784.7 L555.4,1786.5 L557.2,1788.3 L558.9,1790.1 L560.7,1791.9 L562.4,1793.7 L564.2,1795.5 L566.0,1797.3 L567.7,1799.0 L569.5,1800.8 L571.2,1802.6 L573.0,1804.4 L574.7,1806.2 L576.5,1808.0 L578.2,1809.8 L580.0,1811.6 L581.7,1813.4 L583.5,1815.1 L585.3,1816.9 L587.0,1818.7 L588.8,1820.5 L590.5,1822.3 L592.3,1824.1 L594.0,1825.9 L595.8,1827.7 L597.6,1829.5 L599.3,1831.2 L601.1,1833.0 L602.8,1834.8 L604.6,1836.6 L606.3,1838.4 L608.1,1840.2 L609.9,1842.0 L611.6,1843.7 L613.4,1845.5 L615.1,1847.3 L616.9,1849.1 L618.7,1850.9 L620.4,1852.7 L622.2,1854.4 L623.9,1856.2 L625.7,1858.0 L627.5,1859.8 L629.2,1861.6 L631.0,1863.4 L632.8,1865.1 L634.5,1866.9 L636.3,1868.7 L638.1,1870.5 L639.8,1872.3 L641.6,1874.0 L643.3,1875.8 L645.1,1877.6 L646.9,1879.4 L648.6,1881.2 L650.4,1882.9 L652.2,1884.7 L653.9,1886.5 L655.7,1888.3 L657.5,1890.1 L659.2,1891.8 L661.0,1893.6 L662.8,1895.4 L664.6,1897.2 L666.3,1898.9 L668.1,1900.7 L669.9,1902.5 L671.6,1904.2 L673.4,1906.0 L675.2,1907.8 L677.0,1909.6 L678.7,1911.3 L680.5,1913.1 L682.3,1914.9 L684.1,1916.7 L685.8,1918.4 L687.6,1920.2 L689.4,1922.0 L691.2,1923.7 L693.0,1925.5 L694.7,1927.2 L696.5,1929.0 L698.3,1930.7 L700.1,1932.5 L701.9,1934.2 L703.7,1936.0 L705.5,1937.7 L707.4,1939.4 L709.2,1941.2 L711.0,1942.9 L712.8,1944.6 L714.7,1946.3 L716.5,1948.0 L718.4,1949.7 L720.2,1951.3 L722.1,1953.0 L724.0,1954.7 L725.8,1956.3 L727.7,1958.0 L729.6,1959.6 L731.5,1961.3 L733.5,1962.9 L735.4,1964.5 L737.3,1966.1 L739.3,1967.6 L741.2,1969.2 L743.2,1970.8 L745.2,1972.3 L747.1,1973.8 L749.1,1975.4 L751.1,1976.9 L753.2,1978.3 L755.2,1979.8 L757.3,1981.2 L759.3,1982.6 L761.4,1984.0 L763.6,1985.3 L765.7,1986.6 L767.9,1987.9 L770.1,1989.0 L772.3,1990.2 L774.6,1991.2 L776.9,1992.3 L779.2,1993.2 L781.6,1994.1 L784.0,1994.9 L786.4,1995.6 L788.8,1996.3 L791.2,1996.8 L793.7,1997.4 L796.1,1997.8 L798.6,1998.2 L801.1,1998.5 L803.6,1998.7 L806.1,1998.9 L808.6,1999.0 L811.1,1999.0 L813.6,1998.9 L816.1,1998.8 L818.6,1998.6 L821.1,1998.3 L823.6,1998.0 L826.0,1997.5 L828.5,1997.0 L830.9,1996.4 L833.3,1995.6 L835.7,1994.9 L838.1,1994.0 L840.4,1993.0 L842.6,1991.9 L844.9,1990.8 L847.0,1989.6 L849.2,1988.3 L851.3,1986.9 L853.3,1985.4 L855.3,1983.9 L857.3,1982.4 L859.2,1980.7 L861.1,1979.1 L862.9,1977.4 L864.7,1975.6 L866.4,1973.8 L868.1,1971.9 L869.8,1970.1 L871.4,1968.2 L873.0,1966.2 L874.5,1964.2 L876.1,1962.3 L877.5,1960.2 L879.0,1958.2 L880.4,1956.1 L881.8,1954.1 L883.2,1952.0 L884.6,1949.9 L885.9,1947.8 L887.2,1945.6 L888.5,1943.5 L889.8,1941.3 L891.1,1939.1 L892.3,1937.0 L893.5,1934.8 L894.8,1932.6 L896.0,1930.4 L897.2,1928.2 L898.4,1926.0 L899.6,1923.8 L900.7,1921.6 L901.9,1919.4 L903.1,1917.2 L904.3,1915.0 L905.5,1912.8 L906.7,1910.6 L907.9,1908.4 L909.1,1906.2 L910.4,1904.0 L911.6,1901.8 L912.9,1899.7 L914.2,1897.5 L915.5,1895.4 L916.9,1893.3 L918.3,1891.2 L919.7,1889.1 L921.1,1887.1 L922.6,1885.1 L924.1,1883.1 L925.7,1881.1 L927.3,1879.2 L928.9,1877.3 L930.6,1875.4 L932.3,1873.6 L934.1,1871.8 L935.9,1870.1 L937.8,1868.4 L939.7,1866.8 L941.6,1865.2 L943.6,1863.6 L945.6,1862.1 L947.6,1860.7 L949.7,1859.3 L951.9,1858.0 L954.1,1856.8 L956.3,1855.6 L958.6,1854.6 L960.9,1853.6 L963.2,1852.7 L965.6,1852.0 L968.0,1851.4 L970.5,1850.8 L973.0,1850.4 L975.4,1850.1 L977.9,1850.0 L980.5,1849.9 L983.0,1849.9 L985.5,1850.1 L988.0,1850.3 L990.4,1850.7 L992.9,1851.1 L995.3,1851.7 L997.8,1852.3 L1000.2,1853.1 L1002.5,1854.0 L1004.8,1854.9 L1007.1,1856.0 L1009.3,1857.2 L1011.5,1858.5 L1013.6,1859.8 L1015.6,1861.2 L1017.6,1862.7 L1019.6,1864.3 L1021.5,1865.9 L1023.4,1867.6 L1025.2,1869.3 L1026.9,1871.1 L1028.6,1872.9 L1030.3,1874.8 L1032.0,1876.7 L1033.5,1878.6 L1035.1,1880.6 L1036.6,1882.6 L1038.1,1884.6 L1039.6,1886.6 L1041.0,1888.7 L1042.4,1890.8 L1043.8,1892.9 L1045.2,1894.9 L1046.6,1897.1 L1047.9,1899.2 L1049.2,1901.3 L1050.5,1903.4 L1051.8,1905.6 L1053.1,1907.7 L1054.4,1909.9 L1055.7,1912.0 L1057.0,1914.2 L1058.3,1916.3 L1059.6,1918.5 L1060.8,1920.6 L1062.1,1922.8 L1063.4,1925.0 L1064.7,1927.1 L1066.0,1929.3 L1067.2,1931.4 L1068.5,1933.6 L1069.8,1935.7 L1071.1,1937.9 L1072.4,1940.0 L1073.7,1942.1 L1075.1,1944.3 L1076.4,1946.4 L1077.7,1948.5 L1079.1,1950.6 L1080.5,1952.7 L1081.8,1954.8 L1083.2,1956.9 L1084.6,1959.0 L1086.1,1961.0 L1087.5,1963.1 L1089.0,1965.1 L1090.4,1967.1 L1091.9,1969.2 L1093.4,1971.2 L1095.0,1973.1 L1096.5,1975.1 L1098.1,1977.0 L1099.7,1979.0 L1101.3,1980.9 L1103.0,1982.8 L1104.6,1984.7 L1106.3,1986.5 L1108.0,1988.4 L1109.8,1990.2 L1111.5,1991.9 L1113.3,1993.7 L1115.1,1995.4 L1117.0,1997.1 L1118.9,1998.8 L1120.8,2000.4 L1122.7,2002.0 L1124.6,2003.6 L1126.6,2005.1 L1128.7,2006.6 L1130.7,2008.0 L1132.8,2009.4 L1134.9,2010.7 L1137.1,2012.0 L1139.3,2013.2 L1141.5,2014.4 L1143.7,2015.5 L1146.0,2016.5 L1148.3,2017.5 L1150.7,2018.4 L1153.0,2019.3 L1155.4,2020.0 L1157.8,2020.7 L1160.3,2021.3 L1162.7,2021.8 L1165.2,2022.2 L1167.7,2022.6 L1170.2,2022.8 L1172.7,2023.0 L1175.2,2023.1 L1177.7,2023.1 L1180.2,2023.0 L1182.7,2022.9 L1185.2,2022.7 L1187.7,2022.4 L1190.2,2022.0 L1192.6,2021.5 L1195.1,2021.0 L1197.5,2020.4 L1199.9,2019.7 L1202.3,2018.9 L1204.6,2018.1 L1207.0,2017.1 L1209.3,2016.1 L1211.5,2015.0 L1213.7,2013.8 L1215.8,2012.5 L1217.9,2011.1 L1220.0,2009.6 L1221.9,2008.1 L1223.8,2006.4 L1225.6,2004.7 L1227.4,2002.9 L1229.0,2001.0 L1230.6,1999.1 L1232.2,1997.1 L1233.6,1995.1 L1235.1,1993.0 L1236.4,1990.9 L1237.7,1988.8 L1239.0,1986.6 L1240.2,1984.4 L1241.4,1982.2 L1242.6,1980.0 L1243.7,1977.8 L1244.8,1975.5 L1246.0,1973.3 L1247.1,1971.0 L1248.2,1968.8 L1249.3,1966.5 L1250.4,1964.3 L1251.5,1962.0 L1252.6,1959.8 L1253.8,1957.6 L1254.9,1955.3 L1256.1,1953.1 L1257.3,1950.9 L1258.5,1948.7 L1259.8,1946.6 L1261.0,1944.4 L1262.3,1942.2 L1263.6,1940.1 L1264.9,1937.9 L1266.2,1935.8 L1267.5,1933.7 L1268.9,1931.6 L1270.2,1929.4 L1271.6,1927.3 L1273.0,1925.3 L1274.4,1923.2 L1275.8,1921.1 L1277.2,1919.1 L1278.7,1917.0 L1280.1,1915.0 L1281.6,1912.9 L1283.1,1910.9 L1284.6,1908.9 L1286.2,1907.0 L1287.8,1905.0 L1289.4,1903.1 L1291.0,1901.2 L1292.6,1899.3 L1294.3,1897.5 L1296.1,1895.6 L1297.8,1893.8 L1299.6,1892.1 L1301.4,1890.4 L1303.3,1888.7 L1305.2,1887.1 L1307.1,1885.5 L1309.1,1883.9 L1311.1,1882.4 L1313.2,1881.0 L1315.3,1879.6 L1317.4,1878.3 L1319.6,1877.1 L1321.8,1875.9 L1324.0,1874.8 L1326.3,1873.7 L1328.6,1872.8 L1331.0,1871.9 L1333.4,1871.1 L1335.8,1870.4 L1338.2,1869.8 L1340.6,1869.2 L1343.1,1868.7 L1345.5,1868.3 L1348.0,1867.9 L1350.5,1867.6 L1353.0,1867.4 L1355.5,1867.3 L1358.0,1867.2 L1360.5,1867.2 L1363.0,1867.3 L1365.5,1867.4 L1368.0,1867.7 L1370.5,1868.0 L1373.0,1868.3 L1375.5,1868.8 L1377.9,1869.3 L1380.4,1869.9 L1382.8,1870.5 L1385.2,1871.3 L1387.5,1872.1 L1389.9,1873.0 L1392.2,1874.0 L1394.4,1875.1 L1396.7,1876.3 L1398.8,1877.5 L1400.9,1878.9 L1403.0,1880.3 L1405.0,1881.8 L1407.0,1883.3 L1408.9,1885.0 L1410.7,1886.7 L1412.5,1888.4 L1414.3,1890.2 L1416.0,1892.0 L1417.7,1893.9 L1419.3,1895.8 L1420.9,1897.8 L1422.4,1899.7 L1423.9,1901.7 L1425.4,1903.8 L1426.8,1905.8 L1428.2,1907.9 L1429.6,1910.0 L1431.0,1912.1 L1432.3,1914.2 L1433.7,1916.3 L1435.0,1918.4 L1436.3,1920.6 L1437.6,1922.7 L1438.9,1924.9 L1440.2,1927.0 L1441.5,1929.2 L1442.8,1931.3 L1444.1,1933.4 L1445.4,1935.6 L1446.7,1937.7 L1448.0,1939.9 L1449.3,1942.0 L1450.6,1944.1 L1452.0,1946.2 L1453.3,1948.3 L1454.7,1950.4 L1456.1,1952.5 L1457.5,1954.6 L1458.9,1956.7 L1460.3,1958.8 L1461.7,1960.8 L1463.2,1962.9 L1464.6,1964.9 L1466.1,1966.9 L1467.6,1968.9 L1469.1,1970.9 L1470.7,1972.9 L1472.2,1974.9 L1473.8,1976.8 L1475.4,1978.8 L1477.0,1980.7 L1478.7,1982.6 L1480.4,1984.4 L1482.0,1986.3 L1483.8,1988.1 L1485.5,1989.9 L1487.3,1991.7 L1489.1,1993.4 L1490.9,1995.1 L1492.8,1996.8 L1494.7,1998.4 L1496.6,2000.0 L1498.5,2001.6 L1500.5,2003.2 L1502.5,2004.7 L1504.6,2006.1 L1506.6,2007.5 L1508.7,2008.9 L1510.9,2010.2 L1513.0,2011.5 L1515.2,2012.8 L1517.4,2013.9 L1519.6,2015.1 L1521.9,2016.1 L1524.2,2017.2 L1526.5,2018.1 L1528.8,2019.1 L1531.2,2019.9 L1533.6,2020.7 L1536.0,2021.5 L1538.4,2022.1 L1540.8,2022.8 L1543.2,2023.3 L1545.7,2023.8 L1548.2,2024.3 L1550.6,2024.7 L1553.1,2025.0 L1555.6,2025.3 L1558.1,2025.5 L1560.6,2025.7 L1563.1,2025.8 L1565.6,2025.9 L1568.1,2025.9" fill="none" stroke="url(#blueB)" stroke-width="16.5"/>
<path d="M330.7,1558 V2200.6 H1564" fill="none" stroke="#373639" stroke-width="4.2"/>
<path d="M309.7,1558.7 L330.5,1522.9 L351.5,1558.7 Z" fill="#373639"/>
<path d="M1563.5,2180.5 L1599.5,2200.6 L1563.5,2221 Z" fill="#373639"/>
<rect x="483.6" y="2306" width="59.6" height="59.6" rx="9" fill="url(#swP)"/>
<rect x="1003" y="2306" width="60" height="59.6" rx="9" fill="url(#swB)"/>
<text x="280.57" y="238.50" font-size="55.00" font-weight="bold" fill="#383838" textLength="247.53" lengthAdjust="spacingAndGlyphs">INVERTER</text>
<text x="849.96" y="344.80" font-size="50.00" font-weight="normal" fill="#383838" textLength="134.65" lengthAdjust="spacingAndGlyphs">Room</text>
<text x="779.19" y="396.50" font-size="50.00" font-weight="normal" fill="#383838" textLength="277.47" lengthAdjust="spacingAndGlyphs">temperature</text>
<text x="1095.26" y="342.50" font-size="50.00" font-weight="normal" fill="#383838" textLength="403.93" lengthAdjust="spacingAndGlyphs">Little temperature</text>
<text x="1164.38" y="393.90" font-size="50.00" font-weight="normal" fill="#383838" textLength="268.36" lengthAdjust="spacingAndGlyphs">fluctuations</text>
<text x="973.30" y="782.00" font-size="50.00" font-weight="normal" fill="#383838" textLength="373.52" lengthAdjust="spacingAndGlyphs">Set temperature</text>
<text x="418.94" y="930.40" font-size="59.50" font-weight="bold" fill="#000" textLength="84.52" lengthAdjust="spacingAndGlyphs">ON</text>
<text x="1522.31" y="1060.60" font-size="50.50" font-weight="normal" fill="#383838" textLength="118.09" lengthAdjust="spacingAndGlyphs">Time</text>
<text x="584.02" y="1148.10" font-size="59.00" font-weight="normal" fill="#383838" textLength="357.82" lengthAdjust="spacingAndGlyphs">Output Power</text>
<text x="1110.00" y="1148.10" font-size="59.00" font-weight="normal" fill="#383838" textLength="331.72" lengthAdjust="spacingAndGlyphs">Temperature</text>
<text x="302.55" y="1492.10" font-size="55.00" font-weight="bold" fill="#383838" textLength="380.61" lengthAdjust="spacingAndGlyphs">NON-INVERTER</text>
<text x="909.14" y="1532.30" font-size="50.00" font-weight="normal" fill="#383838" textLength="135.07" lengthAdjust="spacingAndGlyphs">Room</text>
<text x="837.56" y="1583.60" font-size="50.00" font-weight="normal" fill="#383838" textLength="278.92" lengthAdjust="spacingAndGlyphs">temperature</text>
<text x="1138.68" y="1528.70" font-size="50.00" font-weight="normal" fill="#383838" textLength="364.92" lengthAdjust="spacingAndGlyphs">Big temperature</text>
<text x="1187.59" y="1587.10" font-size="50.00" font-weight="normal" fill="#383838" textLength="268.36" lengthAdjust="spacingAndGlyphs">fluctuations</text>
<text x="727.06" y="1744.90" font-size="50.00" font-weight="normal" fill="#383838" textLength="73.29" lengthAdjust="spacingAndGlyphs">Set</text>
<text x="626.19" y="1796.70" font-size="50.00" font-weight="normal" fill="#383838" textLength="277.57" lengthAdjust="spacingAndGlyphs">temperature</text>
<text x="527.16" y="2139.50" font-size="59.50" font-weight="bold" fill="#000" textLength="82.15" lengthAdjust="spacingAndGlyphs">ON</text>
<text x="847.06" y="2139.60" font-size="59.50" font-weight="bold" fill="#000" textLength="106.88" lengthAdjust="spacingAndGlyphs">OFF</text>
<text x="1047.36" y="2139.50" font-size="57.50" font-weight="bold" fill="#000" textLength="80.32" lengthAdjust="spacingAndGlyphs">ON</text>
<text x="1229.50" y="2138.90" font-size="57.50" font-weight="bold" fill="#000" textLength="100.79" lengthAdjust="spacingAndGlyphs">OFF</text>
<text x="1432.00" y="2139.50" font-size="57.50" font-weight="bold" fill="#000" textLength="79.46" lengthAdjust="spacingAndGlyphs">ON</text>
<text x="1447.93" y="2265.70" font-size="50.50" font-weight="normal" fill="#383838" textLength="118.09" lengthAdjust="spacingAndGlyphs">Time</text>
<text x="584.02" y="2353.00" font-size="59.00" font-weight="normal" fill="#383838" textLength="357.82" lengthAdjust="spacingAndGlyphs">Output Power</text>
<text x="1110.00" y="2353.00" font-size="59.00" font-weight="normal" fill="#383838" textLength="331.72" lengthAdjust="spacingAndGlyphs">Temperature</text>
<text x="0" y="0" font-size="52.00" fill="#383838" textLength="304.51" lengthAdjust="spacingAndGlyphs" transform="translate(287.20 1012.33) rotate(-90)">Output power</text>
<text x="0" y="0" font-size="52.00" fill="#383838" textLength="302.29" lengthAdjust="spacingAndGlyphs" transform="translate(287.20 2219.92) rotate(-90)">Output power</text>
</svg>
</body></html>
